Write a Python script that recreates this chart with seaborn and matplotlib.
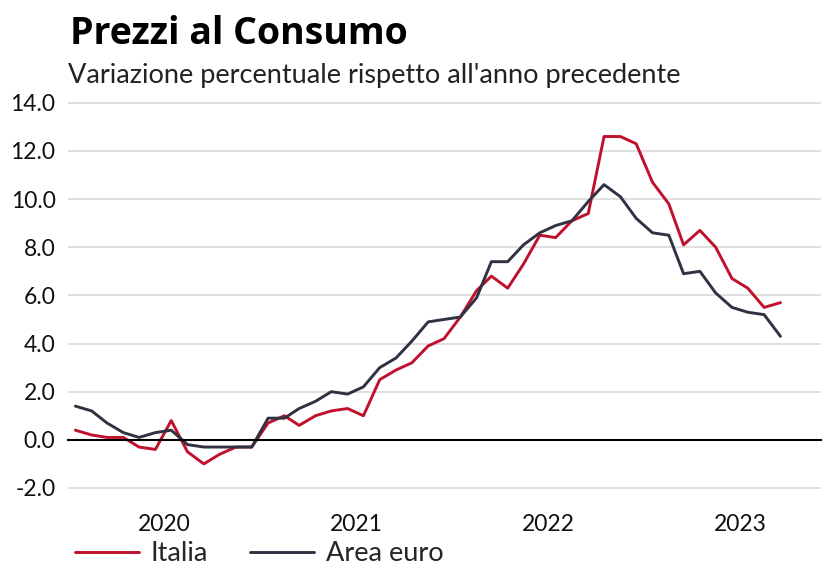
import numpy as np
import pandas as pd
import matplotlib as mpl
mpl.use("Agg")
import matplotlib.pyplot as plt
import seaborn as sns

# %% data (monthly, Jan 2020 - Sep 2023)
months = pd.date_range("2020-01-01", periods=45, freq="MS") + pd.Timedelta(days=14)

italia = [0.4, 0.2, 0.1, 0.1, -0.3, -0.4, 0.8, -0.5, -1.0, -0.6, -0.3, -0.3,
          0.7, 1.0, 0.6, 1.0, 1.2, 1.3, 1.0, 2.5, 2.9, 3.2, 3.9, 4.2,
          5.1, 6.2, 6.8, 6.3, 7.3, 8.5, 8.4, 9.1, 9.4, 12.6, 12.6, 12.3,
          10.7, 9.8, 8.1, 8.7, 8.0, 6.7, 6.3, 5.5, 5.7]

area_euro = [1.4, 1.2, 0.7, 0.3, 0.1, 0.3, 0.4, -0.2, -0.3, -0.3, -0.3, -0.3,
             0.9, 0.9, 1.3, 1.6, 2.0, 1.9, 2.2, 3.0, 3.4, 4.1, 4.9, 5.0,
             5.1, 5.9, 7.4, 7.4, 8.1, 8.6, 8.9, 9.1, 9.9, 10.6, 10.1, 9.2,
             8.6, 8.5, 6.9, 7.0, 6.1, 5.5, 5.3, 5.2, 4.3]

series_names = ["Italia", "Area euro"]
colors = ["#c0102c", "#2f3242"]
years = [2020, 2021, 2022, 2023]

df = pd.DataFrame({
    "date": np.tile(months, 2),
    "value": italia + area_euro,
    "serie": np.repeat(series_names, len(months)),
})

# %% plot
sns.set_style("white")
plt.rcParams['font.family'] = ['Lato', 'DejaVu Sans']

fig = plt.figure(figsize=(8.23, 5.71), dpi=100)
ax = fig.add_axes([68 / 823, 71 / 571, 753 / 823, 402 / 571])

sns.lineplot(data=df, x="date", y="value", hue="serie", palette=colors,
             linewidth=2.1, ax=ax, legend=False)

ax.set_ylim(-2.5, 14.2)
ax.set_xlim(pd.Timestamp("2020-01-01"), pd.Timestamp("2023-12-01"))
ax.set_yticks(np.arange(-2, 15, 2))
ax.set_yticklabels([f"{v:.1f}" for v in np.arange(-2, 15, 2)])
ax.grid(axis="y", color="#dddddd", linewidth=1.3)
ax.set_axisbelow(True)
ax.set_xlabel("")
ax.set_ylabel("")

for s in ["top", "right", "left"]:
    ax.spines[s].set_visible(False)
ax.spines["bottom"].set_position(("data", 0))
ax.spines["bottom"].set_color("black")
ax.spines["bottom"].set_linewidth(1.5)

ax.set_xticks([pd.Timestamp(f"{y}-01-01") for y in years])
ax.tick_params(axis="x", length=6, width=1.2, color="#444444", labelbottom=False)
ax.tick_params(axis="y", length=0, labelsize=16.5, labelcolor="#111111", pad=9)

sec = ax.secondary_xaxis(0)
sec.set_xticks([pd.Timestamp(f"{y}-07-01") for y in years])
sec.set_xticklabels([str(y) for y in years])
sec.tick_params(length=0, labelsize=16.5, labelcolor="#111111", pad=10)
sec.spines["bottom"].set_visible(False)

handles = [plt.Line2D([], [], color=c, linewidth=2.1) for c in colors]
fig.legend(handles, series_names, loc="center left", bbox_to_anchor=(0.091, 0.03),
           ncol=2, frameon=False, fontsize=19.5, handlelength=2.35, columnspacing=1.55,
           handletextpad=0.45, borderpad=0, borderaxespad=0)

fig.text(70 / 823, 1 - 44 / 571, "Prezzi al Consumo", fontsize=27, fontweight="bold",
         family=["Open Sans", "DejaVu Sans"], color="black")
fig.text(68 / 823, 1 - 83 / 571, "Variazione percentuale rispetto all'anno precedente",
         fontsize=19.5, color="#222222")

fig.savefig("out.png", dpi=100)
